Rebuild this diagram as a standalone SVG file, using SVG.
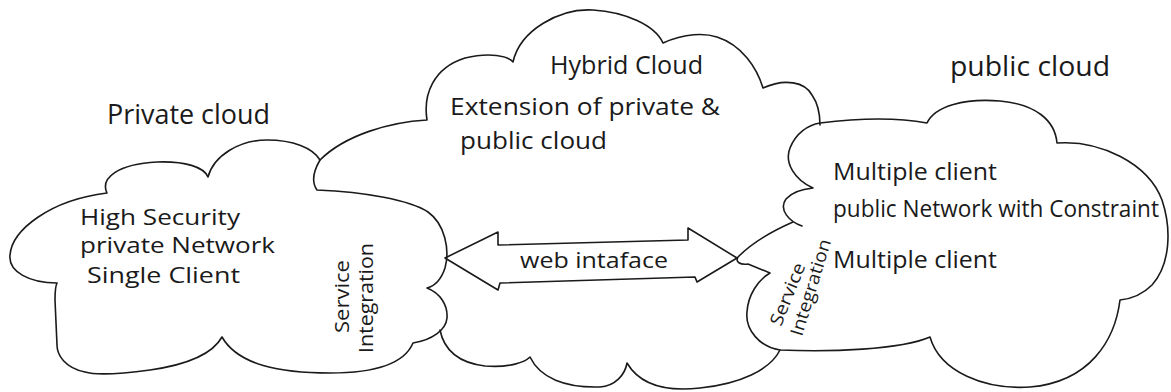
<svg xmlns="http://www.w3.org/2000/svg" width="1171" height="392" viewBox="0 0 1171 392">
<style>
.o{fill:none;stroke:#1a1a1a;stroke-width:1.6;stroke-linejoin:round;stroke-linecap:round}
.t{font-family:"Open Sans","DejaVu Sans",sans-serif;fill:#1a1a1a}
</style>
<rect width="1171" height="392" fill="#fff"/>
<g id="hybrid-cloud">
<path class="o" d="M320,160 C345,135 390,122 427,120 C423,95 433,68 465,58 C490,52 508,56 513,62 C520,30 560,8 593,10 C625,12 655,25 663,43 C685,33 705,33 717,37 C742,45 757,68 763,88 C785,78 805,82 812,95 C819,105 820,115 820,125"/>
<path class="o" d="M440,330 C443,345 452,362 485,366 C510,368 525,362 530,357 C540,378 565,388 600,387 C615,386 625,375 627,363 C640,385 665,392 700,388 C740,384 770,370 780,350"/>
<text class="t" x="550" y="74" font-size="26" textLength="153" lengthAdjust="spacingAndGlyphs">Hybrid Cloud</text>
<text class="t" x="450" y="115" font-size="24" textLength="270" lengthAdjust="spacingAndGlyphs">Extension of private &amp;</text>
<text class="t" x="460" y="149" font-size="24" textLength="147" lengthAdjust="spacingAndGlyphs">public cloud</text>
</g>
<g id="private-cloud">
<path class="o" d="M107,193 C100,178 118,164 157,162 C185,161 204,167 208,177 C214,155 240,140 267,140 C293,140 313,148 320,160 C313,172 312,183 317,190 C365,192 410,200 428,212 C445,224 450,250 445,268 C441,280 435,286 427,288 C440,293 448,305 447,318 C446,330 432,340 413,343 C405,362 380,373 330,373 C280,373 238,365 222,337 C212,355 185,365 150,370 C120,374 95,375 85,372 C65,368 57,355 57,345 L55,300 C55,290 56,285 57,283 C30,283 8,272 10,255 C12,230 50,200 107,193 Z"/>
<text class="t" x="107" y="124" font-size="28" textLength="163" lengthAdjust="spacingAndGlyphs">Private cloud</text>
<text class="t" x="80" y="225" font-size="22" textLength="160" lengthAdjust="spacingAndGlyphs">High Security</text>
<text class="t" x="80" y="253" font-size="22" textLength="195" lengthAdjust="spacingAndGlyphs">private Network</text>
<text class="t" x="87" y="283" font-size="22" textLength="153" lengthAdjust="spacingAndGlyphs">Single Client</text>
<text class="t" transform="translate(349,333) rotate(-90)" font-size="20" textLength="73" lengthAdjust="spacingAndGlyphs">Service</text>
<text class="t" transform="translate(373,353) rotate(-90)" font-size="20" textLength="110" lengthAdjust="spacingAndGlyphs">Integration</text>
</g>
<g id="public-cloud">
<path class="o" d="M802,226 C790,222 778,210 786,199 C792,192 803,189 813,188 C795,180 784,163 790,148 C796,133 808,125 820,123 C860,118 900,118 927,123 C935,106 965,98 1000,101 C1035,104 1055,120 1057,143 C1100,140 1148,163 1162,200 C1172,230 1170,265 1152,285 C1142,295 1130,299 1120,300 C1115,340 1090,382 1030,387 C985,390 940,372 930,337 C900,350 830,352 780,350 C760,347 745,330 747,312 C748,295 758,280 770,273 L748,264 C740,265 735,262 738,257 C750,245 770,232 793,222"/>
<text class="t" x="950" y="76" font-size="28" textLength="160" lengthAdjust="spacingAndGlyphs">public cloud</text>
<text class="t" x="833" y="180" font-size="24" textLength="164" lengthAdjust="spacingAndGlyphs">Multiple client</text>
<text class="t" x="833" y="217" font-size="23" textLength="326" lengthAdjust="spacingAndGlyphs">public Network with Constraint</text>
<text class="t" x="833" y="268" font-size="24" textLength="164" lengthAdjust="spacingAndGlyphs">Multiple client</text>
<text class="t" transform="translate(781,327) rotate(-68)" font-size="18" textLength="66" lengthAdjust="spacingAndGlyphs">Service</text>
<text class="t" transform="translate(802,337) rotate(-73)" font-size="18" textLength="100" lengthAdjust="spacingAndGlyphs">Integration</text>
</g>
<g id="connectors">
<polygon class="o" points="445,258 498,232 498,245 688,240 688,228 737,258 697,282 695,277 500,283 498,290"/>
<text class="t" x="520" y="268" font-size="22" textLength="148" lengthAdjust="spacingAndGlyphs">web intaface</text>
</g>
</svg>
